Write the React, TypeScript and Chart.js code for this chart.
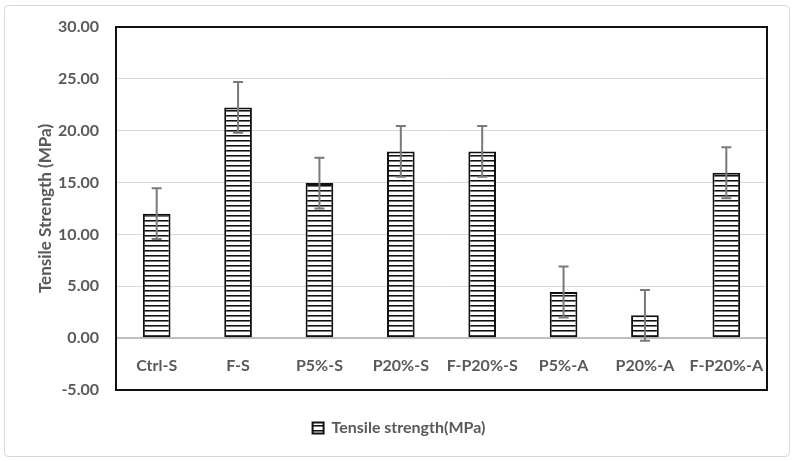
import { useEffect, useRef } from "react";
import { Chart, registerables } from "chart.js";

Chart.register(...registerables);

const categories = ["Ctrl-S", "F-S", "P5%-S", "P20%-S", "F-P20%-S", "P5%-A", "P20%-A", "F-P20%-A"];
const tensileStrength = [12.0, 22.25, 14.95, 18.0, 18.0, 4.45, 2.2, 15.95];
const errorMargins = [2.45, 2.45, 2.45, 2.45, 2.45, 2.45, 2.45, 2.45];
const yMin = -5;
const yMax = 30;
const yStep = 5;
const seriesLabel = "Tensile strength(MPa)";
const yAxisTitle = "Tensile Strength (MPa)";

const FONT = "Lato, 'Open Sans', sans-serif";
const TEXT = "#595959";

function makePattern(): CanvasPattern | string {
  const c = document.createElement("canvas");
  c.width = 8;
  c.height = 5;
  const g = c.getContext("2d");
  if (!g) return "#fff";
  g.fillStyle = "#ffffff";
  g.fillRect(0, 0, 8, 5);
  g.fillStyle = "#111111";
  g.fillRect(0, 0, 8, 1);
  g.fillStyle = "#777777";
  g.fillRect(0, 1, 8, 1);
  return g.createPattern(c, "repeat") || "#fff";
}

const frame = {
  id: "frame",
  beforeDraw(chart: any) {
    const { ctx, width, height } = chart;
    ctx.save();
    ctx.fillStyle = "#ffffff";
    ctx.fillRect(0, 0, width, height);
    ctx.strokeStyle = "#d9d9d9";
    ctx.lineWidth = 1;
    ctx.beginPath();
    ctx.roundRect(4.5, 5.5, 785, 451, 4);
    ctx.stroke();
    ctx.restore();
  },
  afterDatasetsDraw(chart: any) {
    const { ctx, chartArea } = chart;
    const xs = chart.scales.x;
    const ys = chart.scales.y;
    ctx.save();
    ctx.strokeStyle = "#7a7a7a";
    ctx.lineWidth = 2;
    tensileStrength.forEach((v, i) => {
      const x = xs.getPixelForValue(i);
      const yTop = ys.getPixelForValue(v + errorMargins[i]);
      const yBot = ys.getPixelForValue(v - errorMargins[i]);
      ctx.beginPath();
      ctx.moveTo(x, yTop);
      ctx.lineTo(x, yBot);
      ctx.moveTo(x - 5, yTop);
      ctx.lineTo(x + 5, yTop);
      ctx.moveTo(x - 5, yBot);
      ctx.lineTo(x + 5, yBot);
      ctx.stroke();
    });
    ctx.strokeStyle = "#111111";
    ctx.lineWidth = 2;
    ctx.strokeRect(chartArea.left, chartArea.top, chartArea.right - chartArea.left, chartArea.bottom - chartArea.top);
    ctx.restore();
  },
};

export default function App() {
  const ref = useRef<HTMLCanvasElement>(null);
  useEffect(() => {
    document.body.style.margin = "0";
    if (!ref.current) return;
    const pattern = makePattern();
    const chart = new Chart(ref.current, {
      type: "bar",
      data: {
        labels: categories,
        datasets: [
          {
            label: seriesLabel,
            data: tensileStrength,
            backgroundColor: pattern as any,
            borderColor: "#111111",
            borderWidth: 2,
            borderSkipped: false,
            barPercentage: 0.34,
            categoryPercentage: 1,
          },
        ],
      },
      options: {
        animation: false,
        responsive: false,
        maintainAspectRatio: false,
        layout: { padding: { left: 31, right: 27, top: 27, bottom: 15 } },
        plugins: {
          tooltip: { enabled: false },
          legend: {
            position: "bottom",
            labels: {
              boxWidth: 11,
              boxHeight: 11,
              color: TEXT,
              font: { family: FONT, size: 16, weight: "bold" },
              padding: 30,
            },
          },
        },
        scales: {
          x: {
            position: { y: 0 } as any,
            grid: { display: false },
            border: { display: false },
            ticks: {
              color: TEXT,
              font: { family: FONT, size: 16, weight: "bold" },
              padding: 10,
              maxRotation: 0,
              autoSkip: false,
            },
            afterFit(s: any) {
              s.height = 0;
            },
          },
          y: {
            min: yMin,
            max: yMax,
            grid: {
              color: (c: any) => (c.tick && c.tick.value === 0 ? "#bfbfbf" : "#d9d9d9"),
              lineWidth: (c: any) => (c.tick && c.tick.value === 0 ? 2 : 1),
              drawTicks: false,
            },
            border: { display: false },
            ticks: {
              stepSize: yStep,
              color: TEXT,
              font: { family: FONT, size: 16, weight: "bold" },
              padding: 17,
              callback: (v: any) => Number(v).toFixed(2),
            },
            title: {
              display: true,
              text: yAxisTitle,
              color: TEXT,
              font: { family: FONT, size: 17, weight: "bold" },
            },
            afterFit(s: any) {
              s.width = 85;
            },
          },
        },
      },
      plugins: [frame],
    });
    return () => chart.destroy();
  }, []);
  return (
    <div style={{ position: "relative", width: 794, height: 461 }}>
      <canvas ref={ref} width={794} height={461} style={{ display: "block", width: 794, height: 461 }} />
    </div>
  );
}
